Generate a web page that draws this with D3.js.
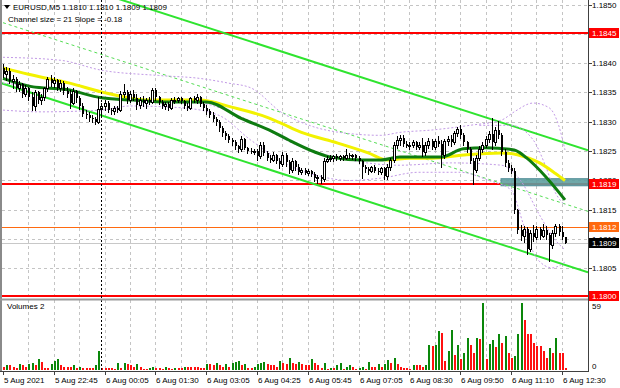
<!DOCTYPE html>
<html>
<head>
<meta charset="utf-8">
<script src="https://cdn.jsdelivr.net/npm/d3@7.9.0/dist/d3.min.js"></script>
<style>
  body { margin: 0; background: #fff; }
  svg text { font-family: "Liberation Sans", Arial, sans-serif; font-size: 8px; fill: #000; }
</style>
</head>
<body>
<div id="chart"></div>
<script>
// EURUSD M5, one row per bar: [open, high, low, close]
const candles = [
  [1.18391,1.18399,1.18376,1.18381],[1.18381,1.18393,1.18371,1.18386],[1.18386,1.18391,1.18366,1.18369],[1.18369,1.18379,1.18357,1.18373],
  [1.18373,1.18377,1.18352,1.18357],[1.18357,1.18369,1.18352,1.18364],[1.18364,1.18367,1.18342,1.18347],[1.18347,1.18362,1.18344,1.18358],
  [1.18358,1.18360,1.18337,1.18342],[1.18342,1.18350,1.18320,1.18327],[1.18327,1.18354,1.18320,1.18350],[1.18350,1.18352,1.18332,1.18337],
  [1.18337,1.18347,1.18330,1.18342],[1.18342,1.18360,1.18338,1.18357],[1.18357,1.18376,1.18352,1.18373],[1.18373,1.18379,1.18361,1.18366],
  [1.18366,1.18376,1.18359,1.18371],[1.18371,1.18373,1.18354,1.18358],[1.18358,1.18371,1.18352,1.18367],[1.18367,1.18369,1.18347,1.18352],
  [1.18352,1.18360,1.18342,1.18347],[1.18347,1.18354,1.18324,1.18332],[1.18332,1.18357,1.18330,1.18352],[1.18352,1.18354,1.18334,1.18340],
  [1.18340,1.18344,1.18322,1.18327],[1.18327,1.18332,1.18310,1.18314],[1.18314,1.18320,1.18307,1.18312],[1.18312,1.18317,1.18302,1.18307],
  [1.18307,1.18312,1.18300,1.18304],[1.18304,1.18308,1.18296,1.18300],[1.18300,1.18342,1.18298,1.18322],[1.18322,1.18332,1.18312,1.18327],
  [1.18327,1.18337,1.18320,1.18332],[1.18332,1.18335,1.18317,1.18320],[1.18320,1.18324,1.18314,1.18318],[1.18318,1.18327,1.18314,1.18324],
  [1.18324,1.18327,1.18317,1.18320],[1.18320,1.18352,1.18318,1.18347],[1.18347,1.18364,1.18342,1.18350],[1.18350,1.18354,1.18332,1.18337],
  [1.18337,1.18352,1.18334,1.18348],[1.18348,1.18354,1.18337,1.18340],[1.18340,1.18347,1.18322,1.18328],[1.18328,1.18342,1.18324,1.18337],
  [1.18337,1.18344,1.18327,1.18332],[1.18332,1.18340,1.18324,1.18337],[1.18337,1.18342,1.18330,1.18334],[1.18334,1.18357,1.18332,1.18354],
  [1.18354,1.18358,1.18338,1.18342],[1.18342,1.18344,1.18330,1.18334],[1.18334,1.18338,1.18324,1.18327],[1.18327,1.18334,1.18322,1.18330],
  [1.18330,1.18334,1.18320,1.18324],[1.18324,1.18340,1.18322,1.18337],[1.18337,1.18342,1.18332,1.18338],[1.18338,1.18342,1.18334,1.18340],
  [1.18340,1.18342,1.18332,1.18336],[1.18336,1.18338,1.18324,1.18327],[1.18327,1.18332,1.18320,1.18324],[1.18324,1.18342,1.18322,1.18340],
  [1.18340,1.18344,1.18334,1.18338],[1.18338,1.18347,1.18332,1.18342],[1.18342,1.18344,1.18327,1.18330],[1.18330,1.18334,1.18320,1.18324],
  [1.18324,1.18328,1.18314,1.18318],[1.18318,1.18322,1.18308,1.18312],[1.18312,1.18316,1.18301,1.18305],[1.18305,1.18309,1.18295,1.18299],
  [1.18299,1.18303,1.18285,1.18289],[1.18289,1.18293,1.18275,1.18281],[1.18281,1.18285,1.18271,1.18275],[1.18275,1.18279,1.18265,1.18269],
  [1.18269,1.18273,1.18261,1.18265],[1.18265,1.18269,1.18253,1.18258],[1.18258,1.18261,1.18248,1.18253],[1.18253,1.18275,1.18251,1.18271],
  [1.18271,1.18273,1.18253,1.18255],[1.18255,1.18257,1.18247,1.18251],[1.18251,1.18255,1.18247,1.18249],[1.18249,1.18253,1.18245,1.18251],
  [1.18251,1.18253,1.18235,1.18241],[1.18241,1.18265,1.18239,1.18261],[1.18261,1.18265,1.18243,1.18247],[1.18247,1.18251,1.18235,1.18239],
  [1.18239,1.18243,1.18231,1.18235],[1.18235,1.18248,1.18233,1.18243],[1.18243,1.18245,1.18229,1.18233],[1.18233,1.18239,1.18221,1.18228],
  [1.18228,1.18248,1.18225,1.18243],[1.18243,1.18247,1.18225,1.18231],[1.18231,1.18235,1.18213,1.18218],[1.18218,1.18238,1.18215,1.18233],
  [1.18233,1.18235,1.18218,1.18223],[1.18223,1.18228,1.18211,1.18215],[1.18215,1.18221,1.18211,1.18218],[1.18218,1.18221,1.18211,1.18213],
  [1.18213,1.18219,1.18209,1.18216],[1.18216,1.18218,1.18208,1.18211],[1.18211,1.18215,1.18199,1.18204],[1.18204,1.18209,1.18196,1.18206],
  [1.18206,1.18210,1.18196,1.18202],[1.18202,1.18238,1.18199,1.18233],[1.18233,1.18241,1.18231,1.18237],[1.18237,1.18243,1.18233,1.18239],
  [1.18239,1.18243,1.18233,1.18241],[1.18241,1.18245,1.18235,1.18238],[1.18238,1.18243,1.18235,1.18241],[1.18241,1.18243,1.18235,1.18239],
  [1.18239,1.18253,1.18237,1.18243],[1.18243,1.18247,1.18238,1.18241],[1.18241,1.18245,1.18237,1.18243],[1.18243,1.18245,1.18235,1.18239],
  [1.18239,1.18241,1.18229,1.18233],[1.18233,1.18235,1.18204,1.18223],[1.18223,1.18227,1.18215,1.18219],[1.18219,1.18223,1.18211,1.18217],
  [1.18217,1.18225,1.18215,1.18223],[1.18223,1.18227,1.18215,1.18217],[1.18217,1.18221,1.18211,1.18215],[1.18215,1.18223,1.18211,1.18221],
  [1.18221,1.18223,1.18203,1.18208],[1.18208,1.18228,1.18203,1.18223],[1.18223,1.18239,1.18218,1.18235],[1.18235,1.18265,1.18231,1.18261],
  [1.18261,1.18275,1.18255,1.18269],[1.18269,1.18278,1.18261,1.18273],[1.18273,1.18277,1.18259,1.18263],[1.18263,1.18267,1.18257,1.18259],
  [1.18259,1.18265,1.18253,1.18261],[1.18261,1.18269,1.18257,1.18265],[1.18265,1.18267,1.18253,1.18257],[1.18257,1.18265,1.18253,1.18261],
  [1.18261,1.18273,1.18241,1.18248],[1.18248,1.18265,1.18243,1.18261],[1.18261,1.18273,1.18255,1.18267],[1.18267,1.18271,1.18253,1.18257],
  [1.18257,1.18271,1.18253,1.18267],[1.18267,1.18275,1.18259,1.18263],[1.18263,1.18269,1.18223,1.18243],[1.18243,1.18271,1.18239,1.18267],
  [1.18267,1.18275,1.18261,1.18271],[1.18271,1.18278,1.18259,1.18265],[1.18265,1.18285,1.18263,1.18281],[1.18281,1.18292,1.18275,1.18288],
  [1.18288,1.18294,1.18273,1.18278],[1.18278,1.18281,1.18261,1.18265],[1.18265,1.18268,1.18248,1.18253],[1.18253,1.18257,1.18229,1.18233],
  [1.18233,1.18239,1.18194,1.18218],[1.18218,1.18243,1.18215,1.18239],[1.18239,1.18259,1.18235,1.18253],[1.18253,1.18265,1.18249,1.18261],
  [1.18261,1.18275,1.18257,1.18271],[1.18271,1.18285,1.18265,1.18279],[1.18279,1.18307,1.18253,1.18265],[1.18265,1.18292,1.18261,1.18286],
  [1.18286,1.18302,1.18273,1.18278],[1.18278,1.18281,1.18243,1.18248],[1.18248,1.18253,1.18225,1.18229],[1.18229,1.18235,1.18217,1.18221],
  [1.18221,1.18227,1.18213,1.18217],[1.18217,1.18221,1.18144,1.18149],[1.18149,1.18152,1.18110,1.18116],[1.18116,1.18124,1.18099,1.18105],
  [1.18105,1.18123,1.18095,1.18117],[1.18117,1.18120,1.18075,1.18083],[1.18083,1.18115,1.18080,1.18110],[1.18110,1.18124,1.18097,1.18103],
  [1.18103,1.18123,1.18100,1.18117],[1.18117,1.18120,1.18101,1.18105],[1.18105,1.18126,1.18103,1.18115],[1.18115,1.18123,1.18100,1.18107],
  [1.18107,1.18111,1.18063,1.18090],[1.18090,1.18115,1.18085,1.18110],[1.18110,1.18126,1.18105,1.18122],[1.18122,1.18126,1.18107,1.18113],
  [1.18113,1.18122,1.18100,1.18103],[1.18103,1.18103,1.18093,1.18094]
];

// tick volume per bar
const volumes = [
  3,4,4,3,2,5,4,3,5,6,4,10,7,2,2,5,8,10,4,3,3,3,4,2,3,2,2,2,2,4,17,2,
  2,2,2,1,6,2,6,5,4,3,5,3,1,1,2,3,2,2,1,3,2,1,2,2,2,3,3,3,3,3,2,2,5,
  5,4,6,4,3,5,3,6,7,8,4,5,2,2,3,5,6,7,5,4,4,3,8,6,5,11,6,5,7,5,4,
  4,10,6,4,2,6,1,2,2,4,6,1,3,4,3,1,2,3,1,7,3,3,5,3,5,9,6,11,5,3,2,2,1,4,4,4,3,4,
  22,21,22,34,33,8,17,35,13,22,10,15,28,22,15,28,27,59,10,23,26,20,32,24,30,15,11,12,32,59,44,
  32,32,24,21,21,17,11,19,15,28,15,15,2
];

// moving averages: [bar, price]
const maSlow = [[0,1.18392],[8,1.18381],[21,1.18366],[31,1.18351],[46,1.18337],[62,1.18337],[72,1.18325],[83,1.18308],
  [87,1.18299],[94,1.18282],[104,1.18266],[115,1.18247],[121,1.18235],[128,1.18238],[135,1.18238],[146,1.18244],
  [157,1.18247],[162,1.18244],[169,1.18230],[174,1.18212],[177,1.18200]];
const maFast = [[0,1.18374],[9,1.18360],[20,1.18355],[31,1.18341],[41,1.18337],[52,1.18334],[64,1.18334],[75,1.18306],
  [85,1.18283],[90,1.18269],[98,1.18249],[103,1.18240],[113,1.18235],[119,1.18235],[125,1.18240],[138,1.18240],
  [145,1.18254],[152,1.18256],[161,1.18252],[165,1.18238],[171,1.18206],[177,1.18167]];

// envelope bands (dotted violet)
const bandUpper = [[0,1.18410],[18,1.18405],[31,1.18388],[49,1.18379],[62,1.18374],[71,1.18366],[78,1.18358],[88,1.18315],
  [97,1.18293],[109,1.18280],[119,1.18277],[125,1.18282],[135,1.18286],[147,1.18294],[157,1.18303],[161,1.18317],
  [167,1.18332],[172,1.18324],[175,1.18294],[177,1.18252]];
const bandUpperInner = [[150,1.18294],[160,1.18294],[167,1.18269],[171,1.18223],[174,1.18179],[177,1.18158]];
const bandLowerInner = [[0,1.18366],[18,1.18355],[37,1.18337],[62,1.18332],[76,1.18306],[94,1.18257],[109,1.18235],
  [125,1.18226],[141,1.18230],[157,1.18226],[163,1.18200],[169,1.18141],[174,1.18098],[177,1.18082]];
const bandLower = [[0,1.18320],[12,1.18317],[31,1.18320],[40,1.18327],[56,1.18324],[68,1.18311],[78,1.18269],[90,1.18226],
  [100,1.18207],[109,1.18200],[119,1.18204],[131,1.18214],[144,1.18214],[153,1.18200],[160,1.18184],[164,1.18124],
  [168,1.18068],[173,1.18051],[177,1.18061]];

// regression channel, two anchor bars
const channelBars = [0, 177];
const channelUpper = [1.18573, 1.18264];
const channelLower = [1.18365, 1.18056];

const redLevels = [1.18451, 1.18194, 1.18003];
const orangeLevel = 1.18121;
const bidPrice = 1.18094;
const zoneBars = [157, 185];
const zonePrices = [1.18191, 1.18203];
const daySeparatorBar = 31;

const priceTicks = [1.1850, 1.1845, 1.1840, 1.1835, 1.1830, 1.1825, 1.1820, 1.1815, 1.1810, 1.1805];
const timeLabelBars = [0, 16, 32, 48, 64, 80, 96, 112, 128, 144, 160, 176];
const timeLabels = ["5 Aug 2021", "5 Aug 22:45", "6 Aug 00:05", "6 Aug 01:30", "6 Aug 03:05", "6 Aug 04:25",
  "6 Aug 05:45", "6 Aug 07:05", "6 Aug 08:30", "6 Aug 09:50", "6 Aug 11:10", "6 Aug 12:30"];
const volumeMax = 59;

const width = 620;
const height = 388;
const axisX = 588;
const mainBottom = 298;
const volTop = 300;
const volBottom = 371;

const svg = d3.select("#chart").append("svg")
  .attr("width", width).attr("height", height)
  .style("display", "block");

const x = d3.scaleLinear().domain([0, 177]).range([3, 565]);
const y = d3.scaleLinear().domain([1.1800, 1.1850]).range([297.8, 4.5]);
const yVol = d3.scaleLinear().domain([0, volumeMax]).range([370, 303]);
const px = (i) => Math.round(x(i));

const defs = svg.append("defs");
defs.append("clipPath").attr("id", "clipMain")
  .append("rect").attr("x", 2).attr("y", 0).attr("width", axisX - 2).attr("height", mainBottom);
defs.append("clipPath").attr("id", "clipVol")
  .append("rect").attr("x", 2).attr("y", volTop).attr("width", axisX - 2).attr("height", volBottom - volTop);

const main = svg.append("g").attr("clip-path", "url(#clipMain)");
const vol = svg.append("g").attr("clip-path", "url(#clipVol)");

// grid
const gridBars = d3.range(8, 178, 8);
[main, vol].forEach((g, k) => {
  g.append("g").selectAll("line").data(gridBars).join("line")
    .attr("x1", d => px(d) + 0.5).attr("x2", d => px(d) + 0.5)
    .attr("y1", k ? volTop : 0).attr("y2", k ? volBottom : mainBottom)
    .attr("stroke", "#c4c4c4").attr("stroke-dasharray", "3,3");
});
main.append("g").selectAll("line").data(priceTicks).join("line")
  .attr("x1", 2).attr("x2", axisX)
  .attr("y1", d => Math.round(y(d)) + 0.5).attr("y2", d => Math.round(y(d)) + 0.5)
  .attr("stroke", "#c4c4c4").attr("stroke-dasharray", "3,3");

// day separator
svg.append("line")
  .attr("x1", px(daySeparatorBar) + 0.5).attr("x2", px(daySeparatorBar) + 0.5)
  .attr("y1", 0).attr("y2", volBottom)
  .attr("stroke", "#000").attr("stroke-dasharray", "2,2");

// horizontal levels
main.append("line").attr("x1", 2).attr("x2", axisX)
  .attr("y1", Math.round(y(bidPrice)) + 0.5).attr("y2", Math.round(y(bidPrice)) + 0.5)
  .attr("stroke", "#c8c8c8");
main.append("line").attr("x1", 2).attr("x2", axisX)
  .attr("y1", Math.round(y(orangeLevel)) + 0.5).attr("y2", Math.round(y(orangeLevel)) + 0.5)
  .attr("stroke", "#ff6a10");
main.append("g").selectAll("line").data(redLevels).join("line")
  .attr("x1", 2).attr("x2", axisX)
  .attr("y1", d => Math.round(y(d))).attr("y2", d => Math.round(y(d)))
  .attr("stroke", "#ff0000").attr("stroke-width", 2);

// zone rectangle
main.append("rect")
  .attr("x", px(zoneBars[0])).attr("width", axisX - px(zoneBars[0]))
  .attr("y", y(zonePrices[1])).attr("height", y(zonePrices[0]) - y(zonePrices[1]))
  .attr("fill", "#5f9ea0").attr("fill-opacity", 0.9)
  .attr("stroke", "#4f8c96").attr("stroke-width", 1);

// regression channel
const chUp = d3.scaleLinear().domain(channelBars).range(channelUpper);
const chLo = d3.scaleLinear().domain(channelBars).range(channelLower);
const chEnd = x.invert(axisX);
main.append("line")
  .attr("x1", x(0)).attr("y1", y((chUp(0) + chLo(0)) / 2))
  .attr("x2", axisX).attr("y2", y((chUp(chEnd) + chLo(chEnd)) / 2))
  .attr("stroke", "#55dd55").attr("stroke-dasharray", "3,3");
[chUp, chLo].forEach(s => {
  main.append("line")
    .attr("x1", 0).attr("y1", y(s(x.invert(0))))
    .attr("x2", axisX).attr("y2", y(s(chEnd)))
    .attr("stroke", "#2fe42f").attr("stroke-width", 2);
});

// bands
const curve = d3.line().x(d => x(d[0])).y(d => y(d[1])).curve(d3.curveMonotoneX);
[bandUpper, bandUpperInner, bandLowerInner, bandLower].forEach(b => {
  main.append("path").attr("d", curve(b))
    .attr("fill", "none").attr("stroke", "#c29ae6").attr("stroke-dasharray", "2,2");
});

// moving averages
main.append("path").attr("d", curve(maSlow))
  .attr("fill", "none").attr("stroke", "#f2f200").attr("stroke-width", 3);
main.append("path").attr("d", curve(maFast))
  .attr("fill", "none").attr("stroke", "#0e7c10").attr("stroke-width", 3);

// candles: white body for up bars, black for down bars
const cg = main.append("g").attr("shape-rendering", "crispEdges");
cg.selectAll("line").data(candles).join("line")
  .attr("x1", (d, i) => px(i) + 0.5).attr("x2", (d, i) => px(i) + 0.5)
  .attr("y1", d => Math.round(y(d[1]))).attr("y2", d => Math.round(y(d[2])) + 1)
  .attr("stroke", "#000");
cg.selectAll("rect").data(candles).join("rect")
  .attr("x", (d, i) => d[3] >= d[0] ? px(i) - 0.5 : px(i))
  .attr("width", 2)
  .attr("y", d => {
    const t = Math.round(y(Math.max(d[0], d[3])));
    return d[3] >= d[0] ? t + 0.5 : t;
  })
  .attr("height", d => {
    const t = Math.round(y(Math.max(d[0], d[3])));
    const b = Math.round(y(Math.min(d[0], d[3])));
    return Math.max(1, b - t);
  })
  .attr("fill", d => d[3] >= d[0] ? "#fff" : "#000")
  .attr("stroke", d => d[3] >= d[0] ? "#000" : "none")
  .attr("stroke-width", 1);

// volume bars, green when volume rose
vol.append("g").attr("shape-rendering", "crispEdges")
  .selectAll("rect").data(volumes).join("rect")
  .attr("x", (d, i) => px(i))
  .attr("width", 2)
  .attr("y", d => Math.round(yVol(d)))
  .attr("height", d => 370 - Math.round(yVol(d)))
  .attr("fill", (d, i) => i > 0 && d > volumes[i - 1] ? "#0a870a" : "#ff1010");

// frames
svg.append("line").attr("x1", 1).attr("x2", 1).attr("y1", 0).attr("y2", volBottom)
  .attr("stroke", "#8a8a8a").attr("stroke-width", 2);
svg.append("line").attr("x1", 0).attr("x2", axisX).attr("y1", 299.5).attr("y2", 299.5)
  .attr("stroke", "#9a9a9a").attr("stroke-width", 2);
svg.append("line").attr("x1", axisX + 0.5).attr("x2", axisX + 0.5).attr("y1", 0).attr("y2", volBottom + 1)
  .attr("stroke", "#404040");
svg.append("line").attr("x1", 0).attr("x2", axisX + 1).attr("y1", volBottom + 0.5).attr("y2", volBottom + 0.5)
  .attr("stroke", "#404040");

// price axis
const axis = svg.append("g");
axis.selectAll("line").data(priceTicks).join("line")
  .attr("x1", axisX).attr("x2", axisX + 4)
  .attr("y1", d => Math.round(y(d)) + 0.5).attr("y2", d => Math.round(y(d)) + 0.5)
  .attr("stroke", "#404040");
axis.selectAll("text").data(priceTicks).join("text")
  .attr("x", axisX + 4).attr("y", d => y(d) + 3)
  .text(d => d.toFixed(4));

function priceTag(price, fill) {
  const g = svg.append("g");
  const cy = Math.round(y(price));
  g.append("rect").attr("x", axisX + 1).attr("y", cy - 5)
    .attr("width", width - axisX - 2).attr("height", 10).attr("fill", fill);
  g.append("text").attr("x", axisX + 4).attr("y", cy + 3)
    .style("fill", "#fff").text(price.toFixed(4));
}
redLevels.forEach(p => priceTag(p, "#ff0000"));
priceTag(orangeLevel, "#ff6a10");
priceTag(bidPrice, "#000");

// volume axis
svg.append("text").attr("x", axisX + 4).attr("y", yVol(volumeMax) + 6).text(volumeMax);
svg.append("text").attr("x", axisX + 4).attr("y", yVol(0) - 1).text(0);
svg.append("text").attr("x", 7).attr("y", 309).text("Volumes 2");

// time axis
svg.append("g").selectAll("line").data(timeLabelBars).join("line")
  .attr("x1", d => px(d) + 0.5).attr("x2", d => px(d) + 0.5)
  .attr("y1", volBottom).attr("y2", volBottom + 4)
  .attr("stroke", "#404040");
svg.append("g").selectAll("text").data(timeLabelBars).join("text")
  .attr("x", d => px(d) + 1).attr("y", 383)
  .text((d, i) => timeLabels[i]);

// header
svg.append("path").attr("d", "M4,5 L10,5 L7,9 Z").attr("fill", "#000");
svg.append("text").attr("x", 13).attr("y", 10).text("EURUSD,M5  1.1810 1.1810 1.1809 1.1809");
svg.append("text").attr("x", 8).attr("y", 22).text("Channel size = 21 Slope = -0.18");
</script>
</body>
</html>
